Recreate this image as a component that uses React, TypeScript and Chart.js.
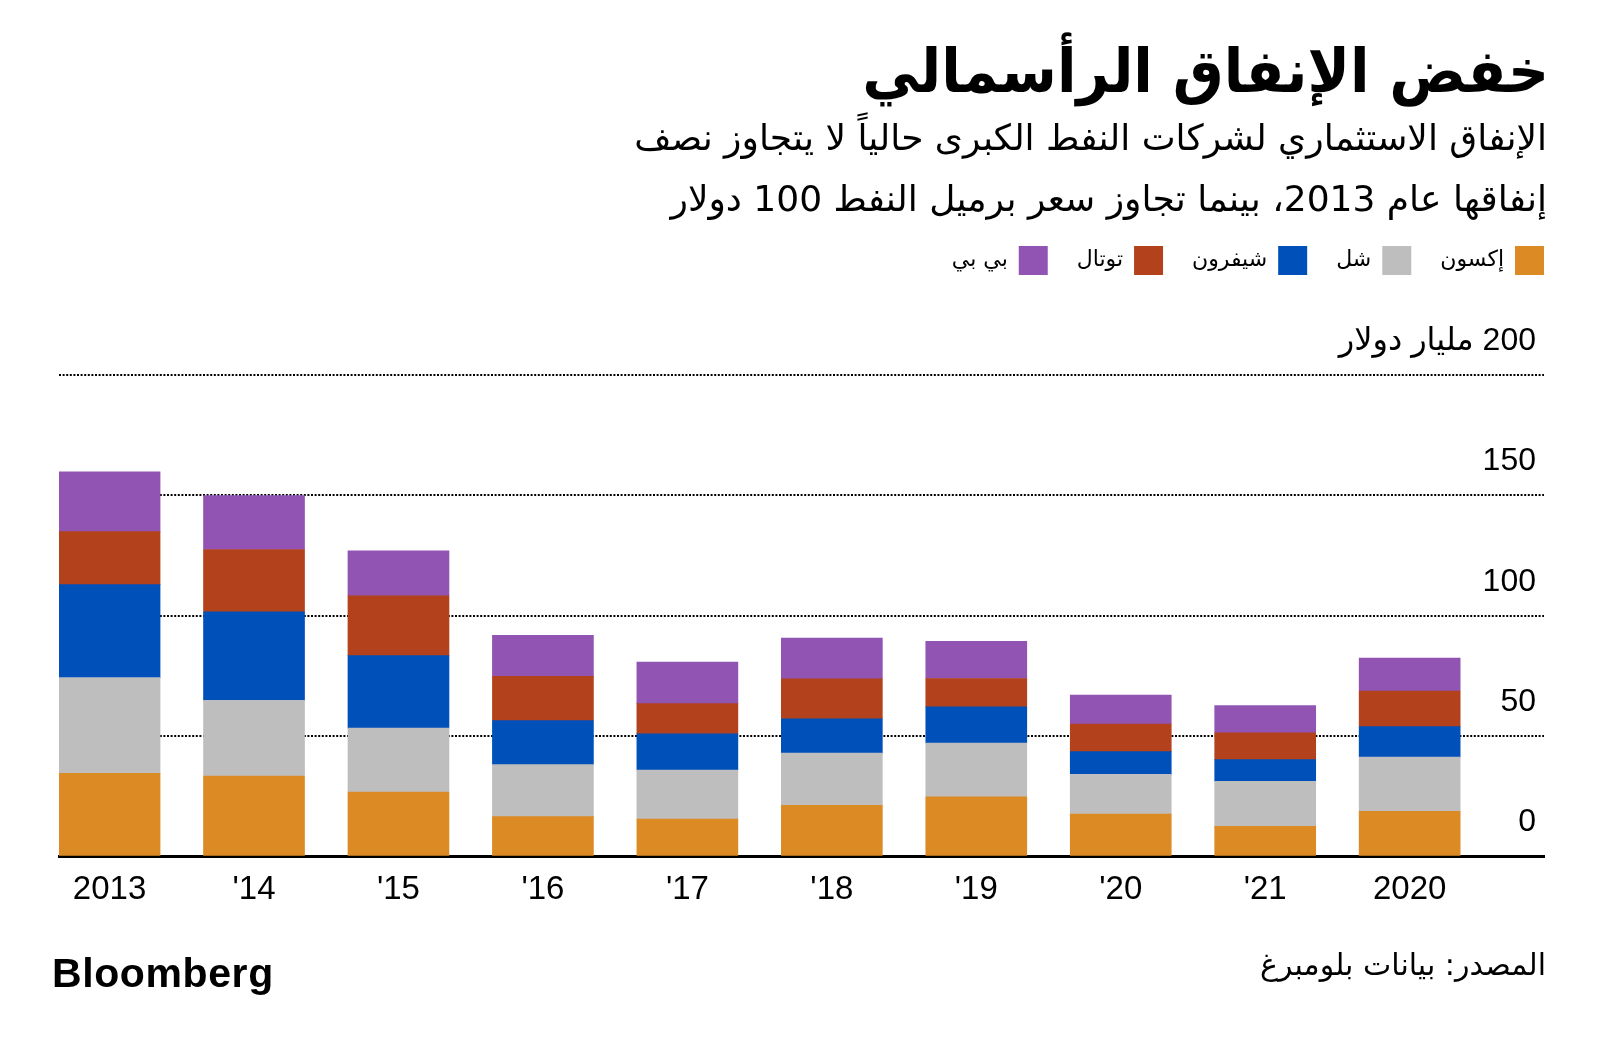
import React, { useEffect, useRef } from "react";
import { Chart, registerables } from "chart.js";

Chart.register(...registerables);

// ---- data ----
const categories = ["2013", "'14", "'15", "'16", "'17", "'18", "'19", "'20", "'21", "2020"];
const exxon = [34.5, 33.4, 26.7, 16.5, 15.5, 21.2, 24.8, 17.6, 12.5, 18.7];
const shell = [39.8, 31.4, 26.6, 21.6, 20.4, 21.7, 22.3, 16.5, 18.7, 22.6];
const chevron = [38.6, 36.8, 30.1, 18.3, 15.0, 14.3, 15.0, 9.4, 9.0, 12.6];
const total = [22.0, 25.9, 24.9, 18.4, 12.6, 16.6, 11.8, 11.5, 11.1, 14.8];
const bp = [24.9, 22.4, 18.7, 17.0, 17.2, 16.9, 15.5, 12.0, 11.4, 13.7];
const seriesNames = ["إكسون", "شل", "شيفرون", "توتال", "بي بي"];
const yTickValues = [0, 50, 100, 150, 200];
const yUnit = "مليار دولار";

const titleText = "خفض الإنفاق الرأسمالي";
const subtitleLines = [
  "الإنفاق الاستثماري لشركات النفط الكبرى حالياً لا يتجاوز نصف",
  "إنفاقها عام 2013، بينما تجاوز سعر برميل النفط 100 دولار",
];
const sourceText = "المصدر: بيانات بلومبرغ";
const brandText = "Bloomberg";

const seriesColors = ["#DB8A24", "#BEBEBE", "#0050BA", "#B3421C", "#9154B3"];

const ARABIC = "'DejaVu Sans'";
const LATIN = "'Liberation Sans', 'DejaVu Sans'";

export default function App() {
  const canvasRef = useRef<HTMLCanvasElement | null>(null);

  useEffect(() => {
    const canvas = canvasRef.current;
    if (!canvas) return;
    const series = [exxon, shell, chevron, total, bp];
    const chart = new Chart(canvas, {
      type: "bar",
      data: {
        datasets: series.map((s, k) => ({
          label: seriesNames[k],
          data: s.map((v, i) => ({ x: i, y: v })),
          backgroundColor: seriesColors[k],
          borderWidth: 0,
          barThickness: 101,
          xAxisID: "x",
          yAxisID: "y",
        })),
      },
      options: {
        animation: false,
        responsive: true,
        maintainAspectRatio: false,
        devicePixelRatio: 1,
        layout: { padding: { top: 217, left: 59, right: 27, bottom: 129 } },
        plugins: {
          legend: {
            display: true,
            position: "top",
            align: "start",
            rtl: true,
            labels: {
              boxWidth: 29,
              boxHeight: 29,
              padding: 29,
              color: "#000",
              font: { family: ARABIC, size: 22 },
            },
          },
          tooltip: { enabled: false },
        },
        scales: {
          x: {
            type: "linear",
            position: "bottom",
            stacked: true,
            offset: false,
            min: -0.35,
            max: 9.93,
            afterBuildTicks: (scale: any) => {
              scale.ticks = categories.map((_, i) => ({ value: i }));
            },
            ticks: {
              autoSkip: false,
              maxRotation: 0,
              padding: 14,
              color: "#000",
              font: { family: LATIN, size: 33 },
              callback: (v: any) => categories[v as number] ?? "",
            },
            grid: { display: false, drawTicks: false, offset: false },
            border: { display: true, color: "#000", width: 3 },
          },
          gap: {
            type: "linear",
            position: "top",
            display: true,
            offset: false,
            grid: { display: false, drawTicks: false },
            border: { display: false },
            ticks: { display: false },
            afterFit: (scale: any) => {
              scale.height = 90;
            },
          },
          y: {
            type: "linear",
            position: "right",
            stacked: true,
            min: yTickValues[0],
            max: yTickValues[yTickValues.length - 1],
            afterBuildTicks: (scale: any) => {
              scale.ticks = yTickValues.map((v) => ({ value: v }));
            },
            ticks: {
              mirror: true,
              padding: -8,
              labelOffset: -34,
              color: "#000",
              font: { family: LATIN, size: 32 },
              callback: (v: any) =>
                v === yTickValues[yTickValues.length - 1] ? "\u200F" + v + " " + yUnit : String(v),
            },
            grid: {
              display: true,
              color: (ctx: any) => (ctx.tick && ctx.tick.value === 0 ? "rgba(0,0,0,0)" : "#000"),
              lineWidth: 2,
              drawTicks: true,
              tickLength: 45,
              tickColor: "rgba(0,0,0,0)",
            },
            border: { display: false, dash: [2, 1.6] },
          },
        },
      } as any,
    });
    return () => chart.destroy();
  }, []);

  return (
    <div
      style={{
        position: "absolute",
        left: 0,
        top: 0,
        width: 1600,
        height: 1053,
        background: "#fff",
        overflow: "hidden",
      }}
    >
      <canvas ref={canvasRef} style={{ position: "absolute", left: 0, top: 0 }} />
      <div
        dir="rtl"
        style={{
          position: "absolute",
          right: 51,
          top: 41,
          fontFamily: ARABIC,
          fontWeight: "bold",
          fontSize: 60,
          lineHeight: "60px",
          whiteSpace: "nowrap",
          color: "#000",
          transform: "scaleX(0.95)",
          transformOrigin: "right center",
        }}
      >
        {titleText}
      </div>
      <div
        dir="rtl"
        style={{
          position: "absolute",
          right: 53,
          top: 106.5,
          fontFamily: ARABIC,
          fontSize: 36,
          lineHeight: "61.7px",
          whiteSpace: "nowrap",
          color: "#000",
          textAlign: "right",
        }}
      >
        {subtitleLines.map((l, i) => (
          <div key={i}>{l}</div>
        ))}
      </div>
      <div
        dir="rtl"
        style={{
          position: "absolute",
          right: 54,
          top: 950,
          fontFamily: ARABIC,
          fontSize: 30,
          lineHeight: "30px",
          whiteSpace: "nowrap",
          color: "#000",
        }}
      >
        {sourceText}
      </div>
      <div
        style={{
          position: "absolute",
          left: 52,
          top: 953,
          fontFamily: LATIN,
          fontWeight: "bold",
          fontSize: 41,
          lineHeight: "41px",
          letterSpacing: "0.6px",
          whiteSpace: "nowrap",
          color: "#000",
        }}
      >
        {brandText}
      </div>
    </div>
  );
}
